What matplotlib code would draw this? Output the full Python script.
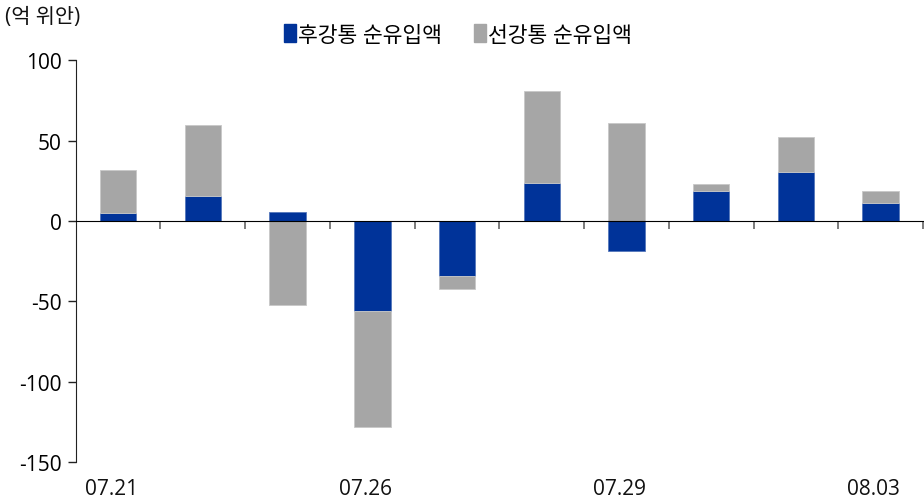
import numpy as np
import matplotlib.pyplot as plt
from matplotlib.patches import Patch
from matplotlib.transforms import blended_transform_factory

plt.rcParams['font.family'] = ['Open Sans', 'Noto Sans CJK KR', 'DejaVu Sans']
plt.rcParams['axes.unicode_minus'] = False

dates = ['07.21', '07.22', '07.25', '07.26', '07.27', '07.28', '07.29', '08.01', '08.02', '08.03']
shown = ['07.21', '07.26', '07.29', '08.03']
hu = np.array([5.2, 15.3, 5.6, -56.0, -34.0, 23.6, -18.9, 18.4, 30.2, 11.2])
sh = np.array([26.3, 44.4, -52.2, -72.5, -8.3, 57.4, 61.1, 4.6, 22.0, 7.2])
names = ['후강통 순유입액', '선강통 순유입액']
c_hu = '#003399'
c_sh = '#A6A6A6'

# stack positive on positive, negative on negative
sh_base = np.where(np.sign(sh) == np.sign(hu), hu, 0)

fig = plt.figure(figsize=(9.24, 5.02), dpi=100)
ax = fig.add_axes([0.082, 0.078, 0.917, 0.8])
x = np.arange(len(dates))
ax.bar(x, hu, width=0.43, color=c_hu, edgecolor='#5577bb', linewidth=0.6, zorder=2)
ax.bar(x, sh, width=0.43, bottom=sh_base, color=c_sh, edgecolor='#c8c8c8', linewidth=0.6, zorder=2)

ax.set_xlim(-0.5, len(dates) - 0.5)
ax.set_ylim(-150, 100)
ax.set_yticks([100, 50, 0, -50, -100, -150])
ax.tick_params(axis='y', labelsize=15, length=6, width=1, color='#222222', pad=4)

for s in ['top', 'right']:
    ax.spines[s].set_visible(False)
ax.spines['bottom'].set_position(('data', 0))
ax.spines['bottom'].set_zorder(3)
ax.spines['left'].set_color('#222222')
ax.set_xticks(np.arange(len(dates)) + 0.5)
ax.set_xticklabels([])
ax.tick_params(axis='x', length=6, width=1.2, color='#666666')

tr = blended_transform_factory(ax.transData, ax.transAxes)
for lab in shown:
    i = dates.index(lab)
    ax.text(i - 0.08, -0.04, lab, transform=tr, ha='center', va='top', fontsize=15, color='#111111')

fig.text(0.005, 0.966, '(억 위안)', fontsize=15, va='center', ha='left', color='#111111')
handles = [Patch(facecolor=c_hu, edgecolor=c_hu), Patch(facecolor=c_sh, edgecolor=c_sh)]
fig.legend(handles, names, loc='center', bbox_to_anchor=(0.496, 0.928), ncol=2, frameon=False,
           fontsize=15.5, handlelength=0.55, handleheight=0.9, handletextpad=0.1, columnspacing=1.5)

fig.savefig('out.png', dpi=100)
